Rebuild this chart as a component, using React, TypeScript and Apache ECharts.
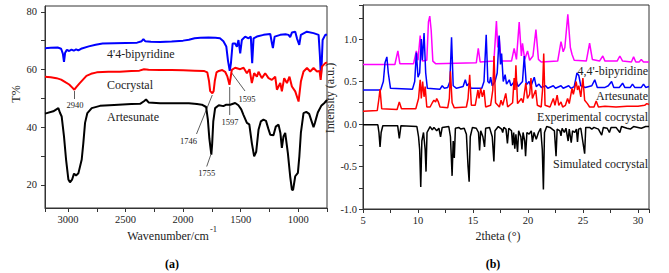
import React, { useEffect, useRef } from "react";
import * as echarts from "echarts";

// ---------- Panel (a): FTIR, [wavenumber cm-1, T%] ----------
const bipyridineFTIR: number[][] = [
  [3200, 67.4], [3150, 67.5], [3090, 67.6], [3060, 67.2], [3045, 65.5], [3035, 62.6], [3025, 65.8],
  [3010, 66.8], [2990, 66.4], [2970, 66.9], [2950, 66.5], [2930, 67.0], [2910, 66.6], [2880, 67.3],
  [2820, 68.0], [2760, 68.6], [2700, 69.0], [2600, 69.1], [2500, 69.2], [2400, 69.3], [2360, 69.8],
  [2345, 70.5], [2330, 69.8], [2280, 69.6], [2200, 69.5], [2100, 69.7], [2000, 70.0], [1950, 70.3],
  [1900, 70.8], [1850, 71.0], [1780, 71.1], [1720, 71.0], [1680, 70.8], [1650, 69.8], [1625, 68.0],
  [1610, 63.0], [1595, 59.5], [1585, 62.0], [1570, 69.0], [1548, 69.0], [1533, 67.9], [1519, 70.2],
  [1504, 65.6], [1490, 70.2], [1461, 71.4], [1432, 70.8], [1412, 71.4], [1400, 62.2], [1388, 70.8],
  [1359, 71.4], [1301, 72.0], [1243, 72.3], [1228, 69.0], [1220, 67.4], [1205, 71.4], [1156, 72.0],
  [1110, 72.2], [1084, 72.0], [1070, 71.2], [1055, 72.8], [1026, 73.1], [1011, 70.8], [991, 68.5],
  [977, 72.0], [925, 73.1], [867, 72.6], [823, 72.0], [812, 65.0], [803, 57.5], [795, 63.0],
  [788, 70.2], [765, 72.0], [750, 72.0]
];

const cocrystalFTIR: number[][] = [
  [3200, 57.5], [3150, 57.3], [3100, 57.0], [3060, 56.5], [3020, 55.5], [2990, 54.8], [2965, 53.8],
  [2945, 53.0], [2930, 53.8], [2900, 55.2], [2870, 56.5], [2840, 57.8], [2800, 58.5], [2750, 59.0],
  [2650, 59.2], [2550, 59.2], [2450, 59.5], [2380, 59.6], [2340, 60.1], [2300, 59.9], [2200, 59.8],
  [2100, 59.8], [2000, 59.7], [1900, 59.6], [1820, 59.5], [1790, 59.0], [1775, 56.0], [1765, 52.5],
  [1746, 51.8], [1735, 52.5], [1725, 56.0], [1710, 59.0], [1690, 59.5], [1660, 59.8], [1635, 59.2],
  [1615, 57.5], [1597, 54.7], [1588, 57.0], [1577, 59.9], [1548, 60.6], [1504, 60.1], [1475, 60.6],
  [1446, 58.7], [1423, 60.1], [1403, 55.3], [1383, 58.7], [1359, 57.5], [1345, 59.2], [1316, 57.0],
  [1287, 58.7], [1258, 57.0], [1229, 56.4], [1200, 57.5], [1185, 53.0], [1156, 55.3], [1142, 52.4],
  [1122, 57.0], [1098, 55.3], [1076, 57.5], [1055, 54.1], [1026, 52.4], [997, 48.9], [977, 55.8],
  [954, 59.3], [924, 60.5], [896, 59.3], [867, 60.5], [837, 59.3], [815, 59.5], [805, 56.4],
  [794, 61.0], [765, 62.2], [750, 62.5]
];

const artesunateFTIR: number[][] = [
  [3200, 44.7], [3128, 45.5], [3084, 46.6], [3070, 45.0], [3055, 43.7], [3035, 36.8], [3017, 28.8],
  [2997, 21.9], [2983, 20.9], [2965, 21.8], [2948, 23.9], [2930, 23.3], [2910, 24.0], [2881, 28.8],
  [2867, 34.5], [2852, 41.5], [2832, 44.9], [2794, 46.6], [2722, 47.4], [2600, 47.7], [2450, 48.0],
  [2374, 48.1], [2340, 49.0], [2322, 49.6], [2300, 48.6], [2200, 48.3], [2050, 48.3], [1950, 48.3],
  [1880, 48.0], [1837, 47.8], [1800, 47.0], [1785, 42.6], [1772, 36.0], [1755, 30.5], [1748, 34.0],
  [1738, 42.0], [1722, 46.6], [1690, 47.6], [1650, 47.3], [1625, 47.8], [1591, 47.8], [1548, 48.4],
  [1520, 47.6], [1495, 46.2], [1476, 44.3], [1446, 41.5], [1425, 41.0], [1403, 34.5], [1383, 29.9],
  [1365, 31.5], [1345, 39.1], [1325, 42.0], [1302, 42.6], [1280, 42.2], [1260, 39.5], [1243, 37.4],
  [1215, 37.2], [1195, 40.2], [1171, 40.9], [1155, 38.0], [1142, 32.8], [1128, 36.8], [1113, 38.0],
  [1090, 31.0], [1070, 23.0], [1055, 18.4], [1045, 18.2], [1026, 23.0], [1003, 24.2], [990, 30.0],
  [977, 38.0], [954, 44.9], [930, 45.3], [905, 44.6], [885, 42.2], [867, 40.0], [855, 41.5],
  [830, 45.1], [800, 47.4], [770, 48.5], [750, 49.5]
];

// ---------- Panel (b): PXRD, [2theta deg, intensity a.u.] ----------
const bipyridinePXRD: number[][] = [
  [5, 0.70], [7.9, 0.70], [8.17, 0.86], [8.35, 0.71], [9.6, 0.71], [9.85, 0.86], [10.0, 0.75],
  [10.2, 1.04], [10.4, 0.74], [10.8, 0.75], [10.95, 1.2], [11.07, 1.27], [11.2, 1.1], [11.35, 0.74],
  [11.6, 0.71], [15.3, 0.72], [15.48, 0.89], [15.65, 0.73], [16.9, 0.74], [17.13, 1.21], [17.25, 0.9],
  [17.37, 1.03], [17.55, 0.74], [18.5, 0.74], [18.74, 0.89], [18.95, 0.76], [19.2, 1.2], [19.4, 0.8],
  [19.5, 0.95], [19.7, 0.76], [19.96, 0.86], [20.15, 0.75], [20.45, 0.8], [20.72, 1.11], [20.95, 0.76],
  [21.2, 0.73], [22.7, 0.74], [23.0, 0.97], [23.2, 0.85], [23.35, 0.9], [23.62, 1.29], [23.85, 0.9],
  [24.0, 0.82], [24.2, 0.75], [25.3, 0.74], [25.6, 0.95], [25.85, 0.76], [26.5, 0.74], [26.8, 0.8],
  [27.0, 0.74], [28.1, 0.74], [28.35, 0.8], [28.6, 0.74], [29.4, 0.73], [29.6, 0.79], [29.8, 0.73],
  [30.1, 0.73], [30.3, 0.76], [30.5, 0.73], [31, 0.73]
];

const artesunatePXRD: number[][] = [
  [5, 0.40], [6.6, 0.40], [6.85, 0.5], [7.0, 0.72], [7.17, 0.79], [7.3, 0.6], [7.5, 0.42], [9.5, 0.41],
  [9.7, 0.5], [9.85, 0.84], [10.0, 0.55], [10.15, 0.6], [10.3, 1.0], [10.4, 0.75], [10.55, 1.07],
  [10.7, 0.6], [10.85, 0.42], [12.0, 0.41], [12.2, 0.45], [12.4, 0.42], [12.7, 0.43], [12.9, 0.5],
  [13.05, 1.02], [13.2, 0.45], [13.5, 0.42], [14.1, 0.44], [14.3, 0.52], [14.45, 0.45], [14.65, 0.48],
  [14.8, 0.42], [15.8, 0.42], [16.0, 0.5], [16.2, 1.05], [16.35, 0.5], [16.5, 0.48], [16.6, 0.55],
  [16.75, 0.45], [17.0, 0.5], [17.2, 0.6], [17.38, 1.04], [17.5, 0.7], [17.6, 0.83], [17.75, 0.5],
  [17.92, 0.58], [18.05, 0.47], [18.3, 0.52], [18.45, 0.45], [18.9, 0.52], [19.1, 0.44], [19.5, 0.5],
  [19.66, 0.8], [19.85, 0.46], [20.1, 0.5], [20.25, 0.44], [20.57, 0.55], [20.75, 0.44], [21.0, 0.47],
  [21.2, 0.43], [21.6, 0.45], [21.8, 0.42], [22.3, 0.45], [22.5, 0.42], [23.0, 0.45], [23.2, 0.42],
  [23.7, 0.45], [23.9, 0.42], [24.2, 0.44], [24.45, 0.6], [24.62, 0.57], [24.8, 0.45], [25.2, 0.43],
  [25.8, 0.45], [26.07, 0.52], [26.3, 0.43], [27.0, 0.43], [27.3, 0.45], [27.6, 0.5], [27.8, 0.43],
  [28.3, 0.43], [28.6, 0.48], [28.8, 0.43], [29.3, 0.43], [29.5, 0.47], [29.7, 0.43], [30.3, 0.43],
  [30.5, 0.47], [30.7, 0.43], [31, 0.44]
];

const experimentalPXRD: number[][] = [
  [5, 0.15], [6.3, 0.16], [6.45, 0.3], [6.55, 0.41], [6.7, 0.18], [8.1, 0.17], [8.3, 0.26], [8.5, 0.18],
  [9.8, 0.18], [10.05, 0.3], [10.2, 0.52], [10.3, 0.3], [10.42, 0.5], [10.55, 0.32], [10.65, 0.44],
  [10.8, 0.2], [11.1, 0.2], [11.3, 0.25], [11.45, 0.28], [11.6, 0.26], [11.7, 0.3], [11.85, 0.26],
  [12.0, 0.2], [12.7, 0.19], [12.85, 0.3], [12.95, 0.62], [13.1, 0.25], [13.3, 0.19], [14.4, 0.2],
  [14.55, 0.3], [14.7, 0.58], [14.85, 0.22], [15.2, 0.22], [15.45, 0.4], [15.55, 0.3], [15.7, 0.42],
  [15.85, 0.32], [16.0, 0.4], [16.15, 0.2], [16.6, 0.22], [16.8, 0.4], [16.91, 0.8], [17.05, 0.25],
  [17.4, 0.2], [17.55, 0.28], [17.7, 0.22], [17.98, 0.36], [18.15, 0.2], [18.6, 0.25], [18.74, 0.54],
  [18.82, 0.4], [18.9, 0.69], [19.05, 0.24], [19.4, 0.3], [19.55, 0.25], [19.8, 0.48], [19.95, 0.3],
  [20.15, 0.35], [20.27, 0.54], [20.4, 0.3], [20.7, 0.4], [20.85, 0.22], [21.2, 0.2], [21.32, 0.4],
  [21.43, 0.83], [21.55, 0.22], [22.0, 0.2], [22.3, 0.3], [22.45, 0.22], [22.65, 0.34], [22.8, 0.22],
  [23.0, 0.26], [23.15, 0.2], [23.4, 0.22], [23.6, 0.3], [23.75, 0.24], [24.0, 0.42], [24.12, 0.35],
  [24.38, 0.5], [24.5, 0.4], [24.62, 0.45], [24.8, 0.32], [24.99, 0.54], [25.15, 0.28], [25.4, 0.24],
  [25.6, 0.2], [26.0, 0.2], [26.2, 0.27], [26.4, 0.2], [27.0, 0.21], [28.0, 0.2], [29.0, 0.21],
  [30.0, 0.21], [30.6, 0.22], [30.8, 0.24], [31, 0.23]
];

const simulatedPXRD: number[][] = [
  [5, -0.01], [6.35, -0.01], [6.45, -0.1], [6.55, -0.27], [6.65, -0.1], [6.8, -0.02], [8.15, -0.02],
  [8.3, -0.17], [8.45, -0.02], [9.9, -0.03], [10.05, -0.15], [10.15, -0.3], [10.25, -0.74], [10.35, -0.2],
  [10.5, -0.1], [10.65, -0.3], [10.73, -0.56], [10.82, -0.1], [11.1, -0.03], [11.3, -0.07], [11.45, -0.04],
  [11.7, -0.08], [11.9, -0.05], [12.05, -0.15], [12.2, -0.04], [12.8, -0.03], [12.95, -0.15], [13.1, -0.61],
  [13.2, -0.2], [13.3, -0.4], [13.4, -0.05], [13.7, -0.04], [13.9, -0.06], [14.2, -0.05], [14.4, -0.12],
  [14.55, -0.5], [14.65, -0.68], [14.75, -0.15], [14.95, -0.04], [15.3, -0.05], [15.5, -0.1], [15.6, -0.31],
  [15.7, -0.08], [15.9, -0.15], [16.05, -0.27], [16.15, -0.05], [16.5, -0.04], [16.75, -0.15], [16.9, -0.44],
  [17.0, -0.08], [17.3, -0.03], [17.6, -0.06], [17.7, -0.1], [17.8, -0.04], [18.0, -0.06], [18.13, -0.23],
  [18.25, -0.05], [18.5, -0.08], [18.6, -0.25], [18.7, -0.1], [18.8, -0.29], [18.9, -0.12], [19.05, -0.33],
  [19.15, -0.08], [19.35, -0.15], [19.45, -0.3], [19.55, -0.1], [19.7, -0.2], [19.78, -0.38], [19.9, -0.1],
  [20.1, -0.12], [20.3, -0.08], [20.4, -0.21], [20.55, -0.1], [20.75, -0.18], [20.95, -0.1], [21.15, -0.05],
  [21.3, -0.3], [21.4, -0.77], [21.5, -0.1], [21.7, -0.03], [22.0, -0.04], [22.4, -0.08], [22.55, -0.38],
  [22.65, -0.06], [22.9, -0.08], [23.0, -0.14], [23.1, -0.05], [23.3, -0.1], [23.45, -0.05], [23.65, -0.2],
  [23.75, -0.06], [23.93, -0.22], [24.05, -0.08], [24.25, -0.1], [24.4, -0.06], [24.5, -0.21], [24.6, -0.06],
  [24.8, -0.05], [25.15, -0.35], [25.25, -0.04], [25.6, -0.04], [25.8, -0.06], [26.0, -0.04], [26.4, -0.06],
  [26.7, -0.13], [26.85, -0.04], [27.2, -0.05], [27.4, -0.1], [27.55, -0.04], [28.0, -0.04], [28.35, -0.1],
  [28.5, -0.03], [29.0, -0.05], [29.3, -0.06], [29.6, -0.03], [30.0, -0.04], [30.3, -0.05], [30.7, -0.03],
  [31, -0.03]
];

// ---------- Ticks ----------
const ftirXLabels = [1000, 1500, 2000, 2500, 3000];
const ftirYTicks = [20, 30, 40, 50, 60, 70, 80];
const ftirYLabels = [20, 40, 60, 80];

const SERIF = "'Liberation Serif', 'Times New Roman', serif";
const TXT = "#222";
const AX = "#333";

export default function App() {
  const ref = useRef<HTMLDivElement>(null);
  useEffect(() => {
    document.body.style.margin = "0";
    const chart = echarts.init(ref.current!, null, { renderer: "svg" });
    const axisCommon = {
      axisLine: { show: true, onZero: false, lineStyle: { color: AX, width: 1 } },
      axisTick: { show: true, inside: false, length: 4, lineStyle: { color: AX } },
      splitLine: { show: false },
      axisLabel: { color: TXT, fontFamily: SERIF, fontSize: 10.5 },
    };
    const nameStyle = (padLeft: number) => ({
      fontFamily: SERIF, fontSize: 12, color: TXT, padding: [0, 0, 0, padLeft],
    });
    const ftirLine = (name: string, data: number[][], color: string) => ({
      type: "line", name, data, xAxisIndex: 0, yAxisIndex: 0, symbol: "none",
      lineStyle: { color, width: 2 }, itemStyle: { color }, silent: true,
    });
    const xrdLine = (name: string, data: number[][], color: string) => ({
      type: "line", name, data, xAxisIndex: 1, yAxisIndex: 1, symbol: "none",
      lineStyle: { color, width: 1.5 }, itemStyle: { color }, silent: true,
    });
    const txt = (x: number, y: number, text: string, size: number, align = "center", extra: any = {}) => ({
      type: "text", x, y,
      style: { text, fontSize: size, fontFamily: SERIF, fill: TXT, align, verticalAlign: "middle", ...extra },
    });
    const ln = (x1: number, y1: number, x2: number, y2: number) => ({
      type: "line", shape: { x1, y1, x2, y2 }, style: { stroke: "#333", lineWidth: 0.8 },
    });

    chart.setOption({
      animation: false,
      textStyle: { fontFamily: SERIF },
      grid: [
        { left: 45, right: 342, top: 6, bottom: 65, show: true, borderColor: AX, borderWidth: 1 },
        { left: 363, right: 20, top: 5, bottom: 64, show: true, borderColor: AX, borderWidth: 1 },
      ],
      xAxis: [
        {
          ...axisCommon, gridIndex: 0, type: "value", min: 750, max: 3200, interval: 250, inverse: true,
          axisLabel: {
            ...axisCommon.axisLabel, margin: 6,
            formatter: (v: number) => (ftirXLabels.includes(v) ? String(v) : ""),
          },
        },
        {
          ...axisCommon, gridIndex: 1, type: "value", min: 5, max: 31, interval: 2.5,
          axisLabel: {
            ...axisCommon.axisLabel, margin: 6,
            formatter: (v: number) => (Math.abs(v % 5) < 1e-6 ? String(v) : ""),
          },
        },
      ],
      yAxis: [
        {
          ...axisCommon, gridIndex: 0, type: "value", min: 12, max: 82,
          name: "T%", nameLocation: "middle", nameGap: 23, nameRotate: 90,
          nameTextStyle: nameStyle(26),
          axisTick: { ...axisCommon.axisTick, customValues: ftirYTicks },
          axisLabel: { ...axisCommon.axisLabel, margin: 8, customValues: ftirYLabels },
        },
        {
          ...axisCommon, gridIndex: 1, type: "value", min: -1, max: 1.4, interval: 0.25,
          name: "Intensity (a.u.)", nameLocation: "middle", nameGap: 16, nameRotate: 90,
          nameTextStyle: nameStyle(18),
          axisLabel: {
            ...axisCommon.axisLabel, margin: 6,
            formatter: (v: number) =>
              Math.abs(v * 2 - Math.round(v * 2)) < 1e-6 && v <= 1.01 ? v.toFixed(1) : "",
          },
        },
      ],
      series: [
        ftirLine("4'4-bipyridine", bipyridineFTIR, "#0000ff"),
        ftirLine("Cocrystal", cocrystalFTIR, "#ff0000"),
        ftirLine("Artesunate", artesunateFTIR, "#000000"),
        xrdLine("4,4'-bipyridine", bipyridinePXRD, "#ff00ff"),
        xrdLine("Artesunate", artesunatePXRD, "#0000ff"),
        xrdLine("Experimental cocrystal", experimentalPXRD, "#ff0000"),
        xrdLine("Simulated cocrystal", simulatedPXRD, "#000000"),
      ],
      graphic: [
        // panel (a) series labels
        txt(107, 54, "4'4-bipyridine", 12, "left"),
        txt(107, 85, "Cocrystal", 12, "left"),
        txt(107, 117, "Artesunate", 12, "left"),
        // panel (a) peak annotations
        ln(74.5, 91, 74.5, 99), txt(75, 104.5, "2940", 8.5),
        ln(231, 72, 245, 91), txt(247, 99, "1595", 8.5),
        ln(229.7, 87, 229.7, 115), txt(230, 121.5, "1597", 8.5),
        ln(212.3, 95, 196.5, 134), txt(188.5, 141, "1746", 8.5),
        ln(210.7, 155, 206.7, 166.5), txt(206.7, 172.5, "1755", 8.5),
        // x axis names
        txt(168, 236, "Wavenumber/cm", 12, "center"),
        txt(210, 229, "-1", 8.5, "left"),
        txt(498, 236, "2theta (\u00b0)", 12, "center"),
        // panel (b) series labels
        txt(648, 71, "4,4'-bipyridine", 12, "right"),
        txt(648, 96, "Artesunate", 12, "right"),
        txt(648, 117, "Experimental cocrystal", 12, "right"),
        txt(648, 164, "Simulated cocrystal", 12, "right"),
        // panel captions
        txt(172, 264, "(a)", 12, "center", { fontWeight: "bold", fill: "#000" }),
        txt(493, 264, "(b)", 12, "center", { fontWeight: "bold", fill: "#000" }),
      ],
    });
    return () => chart.dispose();
  }, []);
  return <div ref={ref} style={{ width: 669, height: 273 }} />;
}
